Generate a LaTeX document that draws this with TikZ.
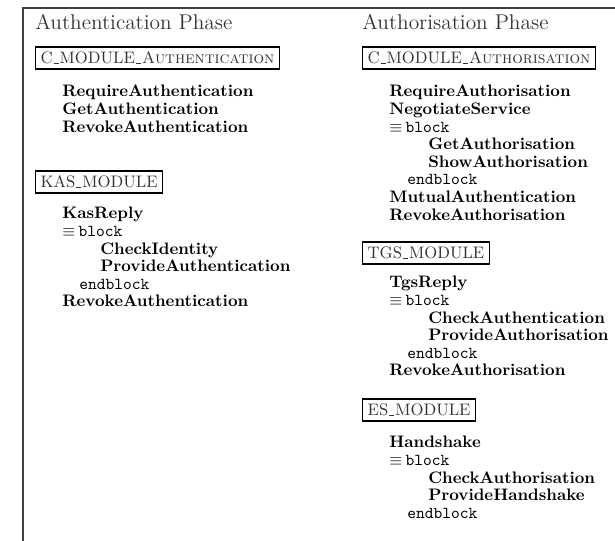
\documentclass[tikz,border=0pt]{standalone}
\usepackage{amsmath}
\usepackage{amssymb}
\usepackage{xcolor}
\usepackage{tikz}
\usetikzlibrary{positioning}

% short low bar, as in the module names
\newcommand{\ubar}{\kern.06em\vbox{\hrule width .3em height .6pt}\kern.06em}

\begin{document}
\begin{tikzpicture}[x = 0.6pt, y = -0.6pt,
  phase/.style = {anchor = base west, inner sep = 0, text = black!80,
    font = \fontsize{12.8}{14}\selectfont},
  module/.style = {draw, line width = 0.8pt, anchor = west, inner xsep = 3pt,
    inner ysep = 0pt, minimum height = 13.2pt, text height = 7pt, text depth = 0.2pt,
    text = black!80, font = \fontsize{10}{12}\selectfont},
  op/.style = {anchor = base west, inner sep = 0, font = \bfseries},
  kw/.style = {anchor = base west, inner sep = 0, font = \fontsize{10}{12}\selectfont\ttfamily}]
\useasboundingbox (0, 0) rectangle (615, 541);
\coordinate (fb) at (23, 541);
\coordinate (fc) at (23, 8);
\coordinate (fr) at (615, 8);
\draw [line width = 1.2pt, black!75] (fb) -- (fc) -- (fr);
% authentication phase
\node [phase] (aPh) at (35, 30) {Authentication Phase};
\node [module] (cmA) at (35, 58) {C\ubar MODULE\ubar\textsc{Authentication}};
\node [op] (a1) at (62, 97) {RequireAuthentication};
\node [op] (a2) at (62, 114.6) {GetAuthentication};
\node [op] (a3) at (62, 132.2) {RevokeAuthentication};
\node [module] (kas) at (35, 182) {KAS\ubar MODULE};
\node [op] (k1) at (62, 219) {KasReply};
\node [kw] (k2) at (62, 236.6) {$\equiv$\hspace{2pt}block};
\node [op] (k3) at (100, 254.2) {CheckIdentity};
\node [op] (k4) at (100, 271.8) {ProvideAuthentication};
\node [kw] (k5) at (79, 289.4) {endblock};
\node [op] (k6) at (62, 307) {RevokeAuthentication};
% authorisation phase
\node [phase] (zPh) at (362, 30) {Authorisation Phase};
\node [module] (cmZ) at (362, 58) {C\ubar MODULE\ubar\textsc{Authorisation}};
\node [op] (z1) at (389, 97) {RequireAuthorisation};
\node [op] (z2) at (389, 114.6) {NegotiateService};
\node [kw] (z3) at (389, 132.2) {$\equiv$\hspace{2pt}block};
\node [op] (z4) at (428, 149.8) {GetAuthorisation};
\node [op] (z5) at (428, 167.4) {ShowAuthorisation};
\node [kw] (z6) at (407, 185) {endblock};
\node [op] (z7) at (389, 202.6) {MutualAuthentication};
\node [op] (z8) at (389, 220.2) {RevokeAuthorisation};
\node [module] (tgs) at (362, 253) {TGS\ubar MODULE};
\node [op] (t1) at (389, 288) {TgsReply};
\node [kw] (t2) at (389, 305.6) {$\equiv$\hspace{2pt}block};
\node [op] (t3) at (428, 323.2) {CheckAuthentication};
\node [op] (t4) at (428, 340.8) {ProvideAuthorisation};
\node [kw] (t5) at (407, 358.4) {endblock};
\node [op] (t6) at (389, 376) {RevokeAuthorisation};
\node [module] (es) at (362, 410) {ES\ubar MODULE};
\node [op] (e1) at (389, 448) {Handshake};
\node [kw] (e2) at (389, 465.6) {$\equiv$\hspace{2pt}block};
\node [op] (e3) at (428, 483.2) {CheckAuthorisation};
\node [op] (e4) at (428, 500.8) {ProvideHandshake};
\node [kw] (e5) at (407, 518.4) {endblock};
\end{tikzpicture}
\end{document}
